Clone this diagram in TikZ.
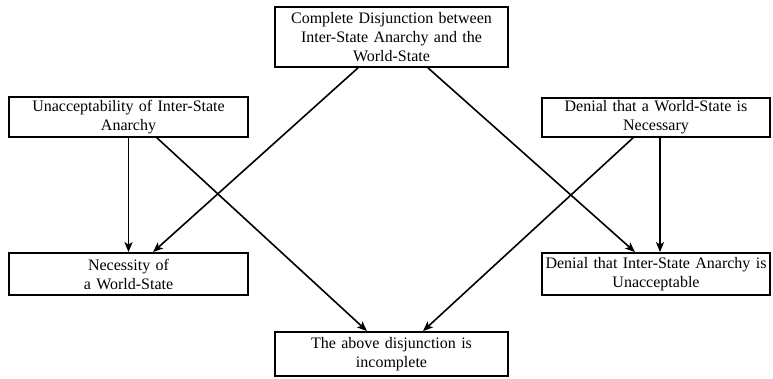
\documentclass[tikz,border=0pt]{standalone}
\usepackage{fontspec}
\setmainfont{Liberation Serif}
\usetikzlibrary{arrows.meta,calc}
\begin{document}
\begin{tikzpicture}[x=1pt,y=-1pt,
  box/.style={draw,line width=1.8pt,rectangle,inner sep=0pt,align=center,
    font=\fontsize{16}{19}\selectfont},
  arr/.style={line width=1.6pt,-{Stealth[length=10pt,width=8pt,inset=2.5pt]}}]
\useasboundingbox (0,0) rectangle (773,379);
\node[box,minimum width=233pt,minimum height=60pt,text width=225pt] (top) at (391.5,37) {Complete Disjunction between\\Inter-State Anarchy and the\\World-State};
\node[box,minimum width=239pt,minimum height=40pt,text width=230pt] (unacc) at (128.5,117) {Unacceptability of Inter-State\\Anarchy};
\node[box,minimum width=228pt,minimum height=39pt,text width=222pt] (denws) at (656,117.5) {Denial that a World-State is\\Necessary};
\node[box,minimum width=239pt,minimum height=42pt,text width=230pt] (necess) at (128.5,274) {Necessity of\\a World-State};
\node[box,minimum width=228pt,minimum height=42pt,text width=222pt] (denis) at (656,274) {Denial that Inter-State Anarchy is\\Unacceptable};
\node[box,minimum width=233pt,minimum height=44pt,text width=225pt] (bot) at (391.5,354) {The above disjunction is\\incomplete};
\draw[arr] (unacc.south) -- (necess.north);
\draw[arr] ([xshift=28.5pt]unacc.south) -- ([xshift=-24.5pt]bot.north);
\draw[arr] ([xshift=-33.5pt]top.south) -- ([xshift=24.5pt]necess.north);
\draw[arr] ([xshift=36.5pt]top.south) -- ([xshift=-21pt]denis.north);
\draw[arr] ([xshift=4pt]denws.south) -- ([xshift=4pt]denis.north);
\draw[arr] ([xshift=-23pt]denws.south) -- ([xshift=31.5pt]bot.north);
\end{tikzpicture}
\end{document}
